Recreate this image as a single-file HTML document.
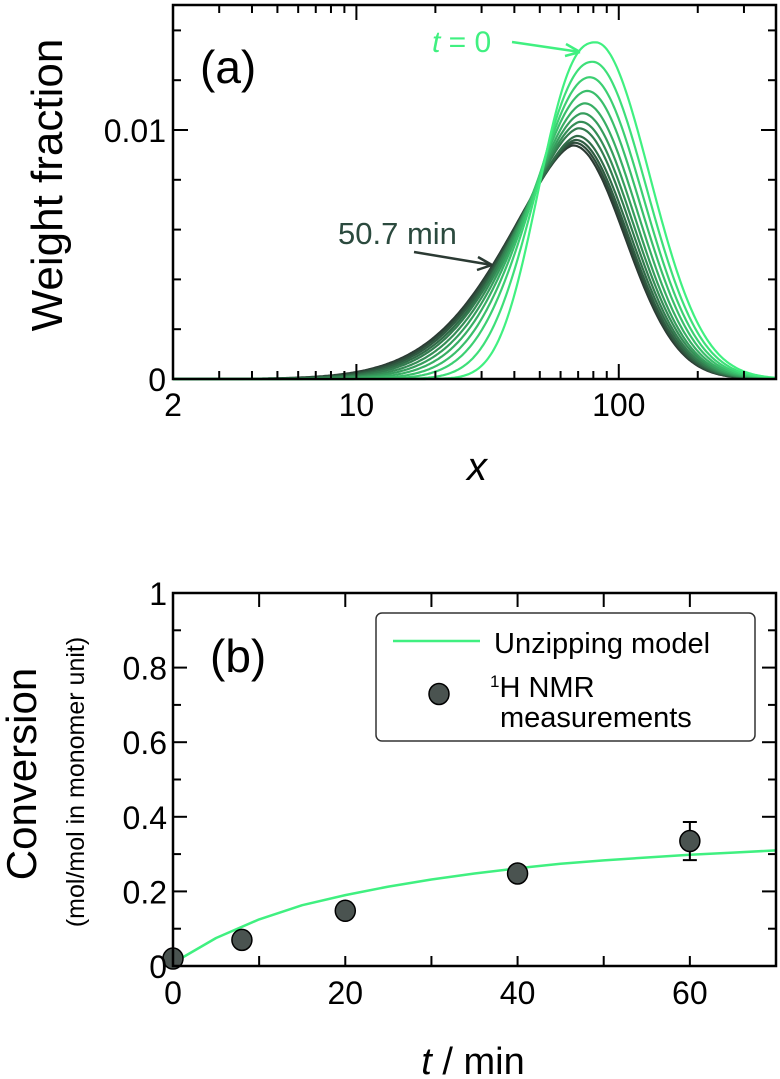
<!DOCTYPE html>
<html><head><meta charset="utf-8"><style>
html,body{margin:0;padding:0;background:#fff;}
svg{display:block;font-family:"Liberation Sans",sans-serif;}
</style></head><body>
<svg id="fig" width="780" height="1079" viewBox="0 0 780 1079">
<g id="top"></g>
<g id="bot"></g>
</svg>
<script>
// ---- Panel (a) data: per-curve peak parameters ----
const curveTimes = ["0","","","","","","","","","","","50.7"];
const peakHeights = [0.01352,0.01274,0.01212,0.01157,0.01107,0.01067,0.01033,0.01007,0.00976,0.00960,0.00949,0.00938];
const peakX = [81.7,79.5,77.5,75.8,74.2,72.8,71.5,70.4,69.4,68.5,67.7,67.0];
const leftWidth = [0.235,0.245,0.254,0.262,0.269,0.275,0.281,0.286,0.290,0.294,0.297,0.300];
const leftPower = [2.5,2.2,2.0,1.9,1.82,1.76,1.72,1.68,1.65,1.63,1.61,1.6];
const rightWidth = [0.205,0.204,0.203,0.202,0.201,0.200,0.200,0.199,0.199,0.198,0.198,0.198];
const xTickLabels = ["2","10","100"];
const xTickValues = [2,10,100];
const yTickLabelsA = ["0","0.01"];
const yTickValuesA = [0,0.01];

// ---- Panel (b) data ----
const modelT = [0,5,10,15,20,25,30,35,40,45,50,55,60,65,70];
const modelConv = [0.008,0.075,0.125,0.163,0.19,0.213,0.232,0.248,0.262,0.274,0.283,0.291,0.298,0.304,0.31];
const nmrT = [0,8,20,40,60];
const nmrConv = [0.02,0.07,0.148,0.248,0.335];
const nmrErr = [0,0,0,0,0.051];
const xTickLabelsB = ["0","20","40","60"];
const xTickValuesB = [0,20,40,60];
const yTickLabelsB = ["0","0.2","0.4","0.6","0.8","1"];
const yTickValuesB = [0,0.2,0.4,0.6,0.8,1];

const NS="http://www.w3.org/2000/svg";
function mk(parent,tag,attrs,text){const e=document.createElementNS(NS,tag);for(const k in attrs)e.setAttribute(k,attrs[k]);if(text!==undefined)e.textContent=text;parent.appendChild(e);return e;}

// ===== Panel A =====
const A=document.getElementById('top');
const aL=173,aR=776,aT=5,aB=379;
const lx0=Math.log10(2), lx1=1+(aR-357)/262;
const xA=v=>aL+(Math.log10(v)-lx0)/(lx1-lx0)*(aR-aL);
const yA=v=>aB-v/0.01*249;
function lerpColor(t){const a=[64,240,128],b=[43,58,51];return 'rgb('+a.map((c,i)=>Math.round(c+(b[i]-c)*t)).join(',')+')';}
const n=peakHeights.length;
for(let i=n-1;i>=0;i--){
  let d='';
  for(let px=aL;px<=aR;px+=1.5){
    const lg=lx0+(px-aL)/(aR-aL)*(lx1-lx0);
    const dd=lg-Math.log10(peakX[i]);
    let v;
    if(dd<0) v=peakHeights[i]*Math.exp(-Math.pow(-dd/leftWidth[i],leftPower[i])*Math.LN2);
    else v=peakHeights[i]*Math.exp(-dd*dd/(2*rightWidth[i]*rightWidth[i]));
    d+=(d?'L':'M')+px.toFixed(1)+','+yA(v).toFixed(1);
  }
  const p=mk(A,'path',{d:d,fill:'none',stroke:lerpColor(i/(n-1)),'stroke-width':2.2});
  
  
}
mk(A,'rect',{x:aL,y:aT,width:aR-aL,height:aB-aT,fill:'none',stroke:'#000','stroke-width':2.5,});
const minorX=[3,4,5,6,7,8,9,20,30,40,50,60,70,80,90,200,300];
minorX.forEach(v=>{const x=xA(v);mk(A,'line',{x1:x,x2:x,y1:aB,y2:aB-8,stroke:'#000','stroke-width':2});mk(A,'line',{x1:x,x2:x,y1:aT,y2:aT+8,stroke:'#000','stroke-width':2});});
[10,100].forEach(v=>{const x=xA(v);mk(A,'line',{x1:x,x2:x,y1:aB,y2:aB-15,stroke:'#000','stroke-width':2});mk(A,'line',{x1:x,x2:x,y1:aT,y2:aT+15,stroke:'#000','stroke-width':2});});
xTickValues.forEach((v,i)=>{const t=mk(A,'text',{x:xA(v),y:416,'text-anchor':'middle','font-size':32},xTickLabels[i]);});
for(let k=0;k<=7;k++){const v=k*0.002,y=yA(v),len=(k%5==0)?15:8;
  mk(A,'line',{x1:aL,x2:aL+len,y1:y,y2:y,stroke:'#000','stroke-width':2});
  mk(A,'line',{x1:aR,x2:aR-len,y1:y,y2:y,stroke:'#000','stroke-width':2});}
yTickValuesA.forEach((v,i)=>{const t=mk(A,'text',{x:166,y:yA(v)+12,'text-anchor':'end','font-size':32},yTickLabelsA[i]);});
mk(A,'text',{x:0,y:0,transform:'translate(62,185) rotate(-90)','text-anchor':'middle','font-size':44,},'Weight fraction');
mk(A,'text',{x:477,y:480,'text-anchor':'middle','font-size':40,'font-style':'italic',},'x');
mk(A,'text',{x:200,y:83,'font-size':46,},'(a)');
const tl=mk(A,'text',{x:432,y:52,'font-size':30,fill:'#40f080',});
mk(tl,'tspan',{'font-style':'italic'},'t');mk(tl,'tspan',{},' = 0');
mk(A,'line',{x1:512,y1:42,x2:580,y2:52,stroke:'#40f080','stroke-width':2.5});
mk(A,'path',{d:'M580,52 L566,44 M580,52 L565,56',stroke:'#40f080','stroke-width':2.5,fill:'none'});
mk(A,'text',{x:338,y:244,'font-size':31,fill:'#2b4a3e',},'50.7 min');
mk(A,'line',{x1:414,y1:252,x2:492,y2:265,stroke:'#2b3a33','stroke-width':2.5});
mk(A,'path',{d:'M492,265 L478,257 M492,265 L477,270',stroke:'#2b3a33','stroke-width':2.5,fill:'none'});

// ===== Panel B =====
const B=document.getElementById('bot');
const bL=173,bR=776,bT=593,bB=966;
const xB=v=>bL+v/70*(bR-bL);
const yB=v=>bB-v*(bB-bT);
let dm='';modelT.forEach((t,i)=>{dm+=(i?'L':'M')+xB(t).toFixed(1)+','+yB(modelConv[i]).toFixed(1);});
mk(B,'path',{d:dm,fill:'none',stroke:'#40f080','stroke-width':2.5,'stroke-linejoin':'round',});
nmrT.forEach((t,i)=>{
  const x=xB(t),y=yB(nmrConv[i]);
  if(nmrErr[i]>0){
    const y1=yB(nmrConv[i]+nmrErr[i]),y2=yB(nmrConv[i]-nmrErr[i]);
    const eb=mk(B,'path',{d:`M${x},${y1}L${x},${y2}M${x-7},${y1}L${x+7},${y1}M${x-7},${y2}L${x+7},${y2}`,stroke:'#000','stroke-width':2,fill:'none'});
    
    
  }
  const c=mk(B,'ellipse',{cx:x,cy:y,rx:10,ry:10.5,fill:'#4a5350',stroke:'#000','stroke-width':1.5});
  
  
});
mk(B,'rect',{x:bL,y:bT,width:bR-bL,height:bB-bT,fill:'none',stroke:'#000','stroke-width':2.5,});
for(let v=10;v<70;v+=10){const x=xB(v);mk(B,'line',{x1:x,x2:x,y1:bB,y2:bB-10,stroke:'#000','stroke-width':2});mk(B,'line',{x1:x,x2:x,y1:bT,y2:bT+14,stroke:'#000','stroke-width':2});}
for(let k=1;k<10;k++){const y=yB(k/10);mk(B,'line',{x1:bL,x2:bL+(k%2?8:14),y1:y,y2:y,stroke:'#000','stroke-width':2});mk(B,'line',{x1:bR,x2:bR-(k%2?8:14),y1:y,y2:y,stroke:'#000','stroke-width':2});}
xTickValuesB.forEach((v,i)=>{const t=mk(B,'text',{x:xB(v),y:1004,'text-anchor':'middle','font-size':32},xTickLabelsB[i]);});
yTickValuesB.forEach((v,i)=>{const t=mk(B,'text',{x:167,y:yB(v)+12,'text-anchor':'end','font-size':32},yTickLabelsB[i]);});
mk(B,'text',{x:0,y:0,transform:'translate(36,774) rotate(-90)','text-anchor':'middle','font-size':42,},'Conversion');
mk(B,'text',{x:0,y:0,transform:'translate(84,782) rotate(-90)','text-anchor':'middle','font-size':25,},'(mol/mol in monomer unit)');
const xt=mk(B,'text',{x:473,y:1074,'text-anchor':'middle','font-size':38,});
mk(xt,'tspan',{'font-style':'italic'},'t');mk(xt,'tspan',{},' / min');
mk(B,'text',{x:210,y:672,'font-size':46,},'(b)');
const lg=mk(B,'g',{});
mk(lg,'rect',{x:376,y:613,width:379,height:128,rx:6,fill:'#fff',stroke:'#333','stroke-width':1.5});
mk(lg,'line',{x1:393,x2:480,y1:641,y2:641,stroke:'#40f080','stroke-width':2.5,});
mk(lg,'text',{x:494,y:653,'font-size':29,},'Unzipping model');
mk(lg,'ellipse',{cx:439,cy:694,rx:10,ry:10.5,fill:'#4a5350',stroke:'#000','stroke-width':1.5,});
const nl=mk(lg,'text',{x:490,y:697,'font-size':29,});
mk(nl,'tspan',{'font-size':17,dy:-10},'1');mk(nl,'tspan',{dy:10},'H NMR');
mk(lg,'text',{x:500,y:727,'font-size':29,},'measurements');
</script>
</body></html>
